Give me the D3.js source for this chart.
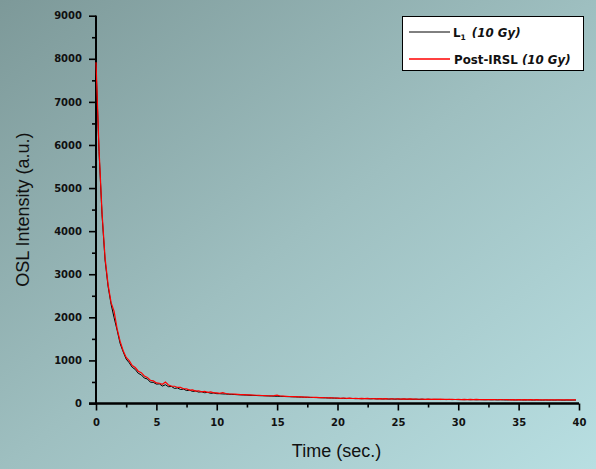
<!DOCTYPE html>
<html>
<head>
<meta charset="utf-8">
<script src="https://cdn.jsdelivr.net/npm/d3@7"></script>
<style>
  html, body { margin: 0; padding: 0; }
  svg { display: block; }
</style>
</head>
<body>
<svg id="chart" width="596" height="469"></svg>
<script>
// OSL decay curves, sampled every 0.25 s (channel times 0 … 39.75 s)
const channelStep = 0.25;

// L1 (10 Gy)
const l1Values = [
  7850, 5850, 4380, 3330, 2720, 2300, 1990, 1700, 1390, 1200,
  1030, 945, 840, 790, 700, 665, 590, 570, 495, 490,
  450, 455, 405, 435, 390, 395, 350, 360, 325, 335,
  300, 310, 280, 290, 265, 272, 250, 258, 236, 245,
  228, 228, 222, 220, 214, 212, 208, 203, 200, 197,
  195, 190, 188, 186, 182, 180, 178, 175, 173, 170,
  168, 166, 164, 160, 158, 155, 153, 150, 148, 146,
  143, 141, 139, 137, 135, 132, 131, 128, 127, 125,
  123, 118, 121, 115, 119, 117, 112, 116, 110, 114,
  111, 107, 112, 106, 109, 104, 108, 102, 106, 101,
  104, 100, 103, 98, 101, 97, 100, 96, 99, 94,
  98, 95, 93, 97, 92, 95, 91, 94, 90, 93,
  89, 91, 88, 92, 87, 90, 86, 89, 87, 85,
  88, 84, 87, 83, 86, 84, 82, 85, 83, 81,
  84, 82, 80, 83, 81, 79, 82, 80, 78, 81,
  79, 80, 78, 81, 79, 77, 80, 78, 79, 80
];

// Post-IRSL (10 Gy)
const postIrslValues = [
  7920, 5900, 4420, 3380, 2760, 2340, 2140, 1730, 1440, 1225,
  1070, 995, 880, 835, 750, 715, 640, 605, 540, 525,
  478, 470, 445, 500, 430, 405, 400, 372, 375, 342,
  338, 312, 315, 288, 295, 272, 280, 258, 270, 246,
  248, 236, 250, 232, 225, 220, 216, 212, 208, 204,
  200, 198, 196, 192, 190, 186, 184, 180, 178, 182,
  192, 174, 170, 166, 163, 160, 158, 155, 152, 150,
  148, 145, 143, 141, 138, 136, 134, 132, 130, 128,
  126, 120, 127, 118, 124, 116, 121, 114, 119, 112,
  117, 110, 115, 108, 113, 107, 111, 105, 110, 104,
  108, 103, 107, 101, 106, 100, 104, 99, 103, 98,
  102, 97, 101, 96, 100, 95, 99, 94, 98, 93,
  97, 92, 96, 91, 95, 90, 94, 89, 93, 89,
  92, 88, 92, 87, 91, 87, 90, 86, 90, 86,
  89, 85, 89, 85, 88, 84, 88, 84, 87, 84,
  86, 83, 87, 83, 86, 82, 86, 83, 85, 84
];

const xTicks = [0, 5, 10, 15, 20, 25, 30, 35, 40];
const yTicks = [0, 1000, 2000, 3000, 4000, 5000, 6000, 7000, 8000, 9000];
const xTitle = "Time (sec.)";
const yTitle = "OSL Intensity (a.u.)";
const seriesNames = ["L", "Post-IRSL"];

const W = 596, H = 469;
const plot = { left: 96, right: 579, top: 15.7, bottom: 403.5 };

const svg = d3.select("#chart");

// background gradient
const defs = svg.append("defs");
const grad = defs.append("linearGradient")
  .attr("id", "bg").attr("x1", "0").attr("y1", "0").attr("x2", "1").attr("y2", "1");
grad.append("stop").attr("offset", "0").attr("stop-color", "#7d9999");
grad.append("stop").attr("offset", "0.5").attr("stop-color", "#9ebfc0");
grad.append("stop").attr("offset", "1").attr("stop-color", "#b8dfe2");
svg.append("rect").attr("width", W).attr("height", H).attr("fill", "url(#bg)");

const x = d3.scaleLinear().domain([0, 40]).range([plot.left, plot.right]);
const y = d3.scaleLinear().domain([0, 9000]).range([plot.bottom, plot.top]);

const tickFont = "'DejaVu Sans', sans-serif";

// x axis
const xAxis = svg.append("g").attr("transform", `translate(0,${plot.bottom})`)
  .call(d3.axisBottom(x).tickValues(xTicks).tickFormat(d3.format("d")).tickSize(7).tickPadding(8));
xAxis.append("g").call(d3.axisBottom(x).tickValues(d3.range(2.5, 40, 5)).tickFormat("").tickSize(4));

// y axis
const yAxis = svg.append("g").attr("transform", `translate(${plot.left},0)`)
  .call(d3.axisLeft(y).tickValues(yTicks).tickFormat(d3.format("d")).tickSize(7).tickPadding(7));
yAxis.append("g").call(d3.axisLeft(y).tickValues(d3.range(500, 9000, 1000)).tickFormat("").tickSize(4));

[xAxis, yAxis].forEach(g => {
  g.selectAll(".domain").attr("stroke", "#000").attr("stroke-width", 1.8);
  g.selectAll(".tick line").attr("stroke", "#000").attr("stroke-width", 1.6);
  g.selectAll(".tick text")
    .attr("fill", "#111")
    .style("font-family", tickFont)
    .style("font-weight", "bold")
    .style("font-size", "10px");
});
xAxis.selectAll(".domain").attr("d", `M${plot.left - 7},0H${plot.right}`);
yAxis.selectAll(".domain").attr("d", `M0,${plot.top}V${plot.bottom}`);

// axis titles
svg.append("text")
  .attr("x", (plot.left + plot.right) / 2 - 1).attr("y", 457)
  .attr("text-anchor", "middle")
  .style("font-family", "'Liberation Sans', Arial, sans-serif")
  .style("font-size", "18px").attr("fill", "#111")
  .text(xTitle);
svg.append("text")
  .attr("transform", `translate(29,${(plot.top + plot.bottom) / 2}) rotate(-90)`)
  .attr("text-anchor", "middle")
  .style("font-family", "'Liberation Sans', Arial, sans-serif")
  .style("font-size", "18px").attr("fill", "#111")
  .text(yTitle);

// curves
const line = d3.line()
  .x((d, i) => x(i * channelStep))
  .y(d => y(d));

svg.append("path").datum(l1Values)
  .attr("fill", "none").attr("stroke", "#000").attr("stroke-width", 1)
  .attr("d", line);
svg.append("path").datum(postIrslValues)
  .attr("fill", "none").attr("stroke", "#ff0000").attr("stroke-width", 1.2)
  .attr("d", line);

// legend
const lg = svg.append("g");
lg.append("rect").attr("x", 402.5).attr("y", 16.5).attr("width", 181).attr("height", 54)
  .attr("fill", "#fff").attr("stroke", "#000").attr("stroke-width", 1);
lg.append("line").attr("x1", 409).attr("x2", 450).attr("y1", 32).attr("y2", 32)
  .attr("stroke", "#000").attr("stroke-width", 1);
lg.append("line").attr("x1", 409).attr("x2", 450).attr("y1", 59).attr("y2", 59)
  .attr("stroke", "#ff0000").attr("stroke-width", 1.3);

const legendFont = "'DejaVu Sans', sans-serif";
const t1 = lg.append("text").attr("x", 453).attr("y", 36.5)
  .style("font-family", legendFont).style("font-weight", "bold").style("font-size", "11.8px")
  .attr("fill", "#111");
t1.append("tspan").text(seriesNames[0]);
t1.append("tspan").attr("dy", 3).style("font-size", "7.5px").text("1");
t1.append("tspan").attr("dy", -3).attr("dx", 2).style("font-style", "italic").text(" (10 Gy)");

const t2 = lg.append("text").attr("x", 454).attr("y", 63.5)
  .style("font-family", legendFont).style("font-weight", "bold").style("font-size", "11.8px")
  .attr("fill", "#111");
t2.append("tspan").text(seriesNames[1] + " ");
t2.append("tspan").style("font-style", "italic").text("(10 Gy)");
</script>
</body>
</html>
